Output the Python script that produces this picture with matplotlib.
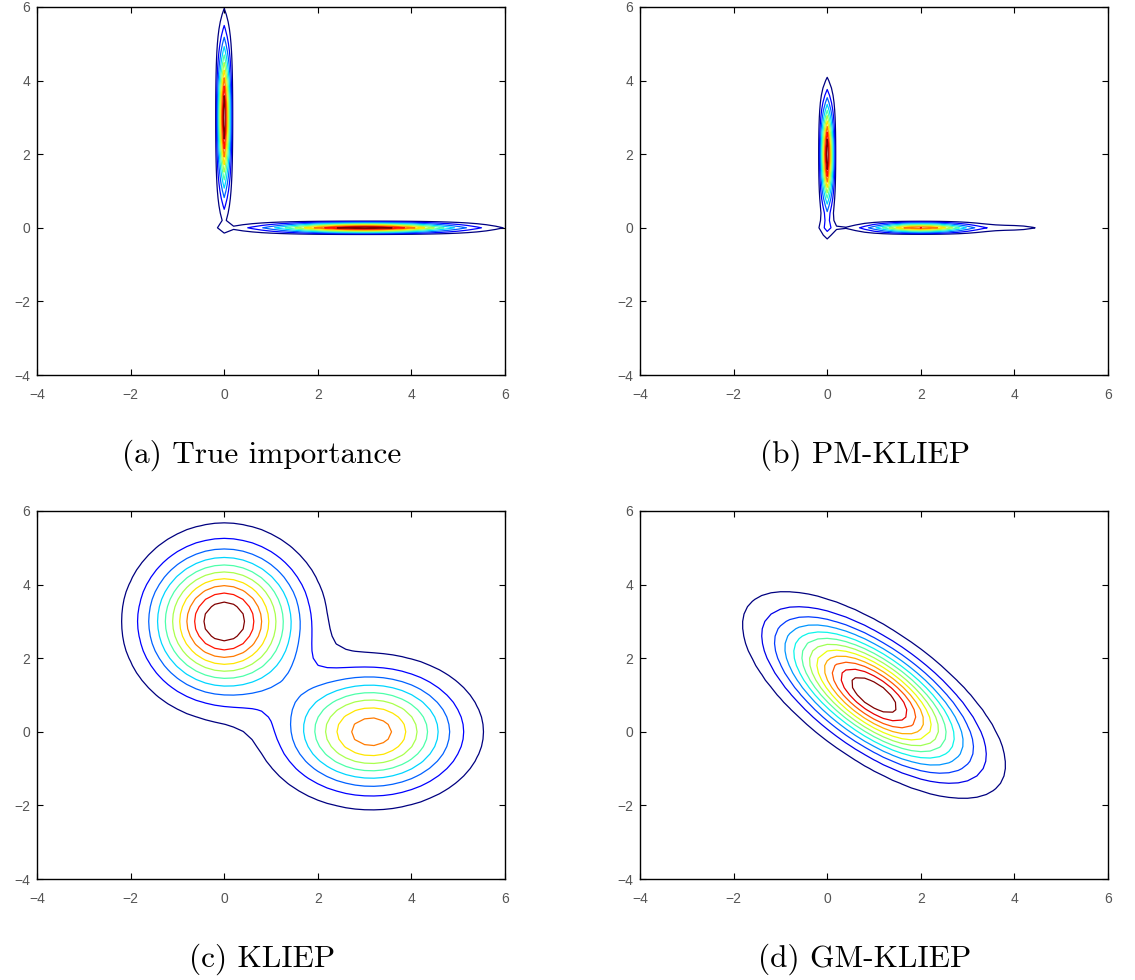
import numpy as np
import matplotlib
matplotlib.use("Agg")
import matplotlib.pyplot as plt

# evaluation grid (coarse, like the original MATLAB mesh)
grid_min, grid_max, grid_n = -4, 6, 51

# each panel: mixture of axis-aligned / rotated gaussians
# (a) true importance
true_means = [(0.0, 3.0), (3.0, 0.0)]
true_sds = [(0.05, 1.35), (1.35, 0.05)]
true_rho = [0.0, 0.0]
true_amps = [1.0, 1.0]

# (b) PM-KLIEP
pm_means = [(0.0, 2.0), (2.0, 0.0), (4.1, 0.0), (0.0, 0.0)]
pm_sds = [(0.05, 0.95), (0.75, 0.05), (0.5, 0.03), (0.2, 0.2)]
pm_rho = [0.0, 0.0, 0.0, 0.0]
pm_amps = [1.0, 0.82, 0.11, 0.1]

# (c) KLIEP
kl_means = [(0.0, 3.0), (3.15, 0.0)]
kl_sds = [(1.0, 1.22), (1.15, 1.02)]
kl_rho = [0.0, 0.0]
kl_amps = [1.0, 0.78]

# (d) GM-KLIEP
gm_means = [(1.0, 1.0)]
gm_sds = [(1.24, 1.24)]
gm_rho = [-0.68]
gm_amps = [1.0]

captions = ["(a) True importance", "(b) PM-KLIEP", "(c) KLIEP", "(d) GM-KLIEP"]
n_levels = [10, 10, 10, 12]
ticks = [-4, -2, 0, 2, 4, 6]


def mixture(X, Y, means, sds, rhos, amps):
    Z = np.zeros_like(X)
    for (mx, my), (sx, sy), r, a in zip(means, sds, rhos, amps):
        u = (X - mx) / sx
        v = (Y - my) / sy
        q = (u**2 - 2 * r * u * v + v**2) / (1 - r**2)
        Z += a * np.exp(-0.5 * q)
    return Z


g = np.linspace(grid_min, grid_max, grid_n)
X, Y = np.meshgrid(g, g)
fields = [
    mixture(X, Y, true_means, true_sds, true_rho, true_amps),
    mixture(X, Y, pm_means, pm_sds, pm_rho, pm_amps),
    mixture(X, Y, kl_means, kl_sds, kl_rho, kl_amps),
    mixture(X, Y, gm_means, gm_sds, gm_rho, gm_amps),
]

fig = plt.figure(figsize=(11.35, 9.8), dpi=100)
W, H = 1135.0, 980.0
boxes = [(37, 7), (640, 7), (37, 511), (640, 511)]
aw, ah = 468, 368

for i, Z in enumerate(fields):
    x0, y0 = boxes[i]
    ax = fig.add_axes([x0 / W, 1 - (y0 + ah) / H, aw / W, ah / H])
    zmax = Z.max()
    levels = np.linspace(0, zmax, n_levels[i] + 2)[1:-1]
    ax.contour(X, Y, Z, levels=levels, cmap="jet", linewidths=0.9)
    ax.set_xlim(-4, 6)
    ax.set_ylim(-4, 6)
    ax.set_xticks(ticks)
    ax.set_yticks(ticks)
    ax.tick_params(direction="in", top=True, right=True, length=4,
                   labelsize=10, labelcolor="#555555")
    ax.tick_params(axis="x", pad=9)
    ax.tick_params(axis="y", pad=5)
    for lab in ax.get_xticklabels() + ax.get_yticklabels():
        lab.set_family("Liberation Sans")
    for s in ax.spines.values():
        s.set_linewidth(1.0)
    cx = (x0 + aw / 2 - 9) / W
    cy = 1 - (y0 + ah + 80) / H
    fig.text(cx, cy, captions[i], ha="center", va="center",
             family="cmr10", fontsize=22.5)

plt.savefig("out.png", dpi=100)
